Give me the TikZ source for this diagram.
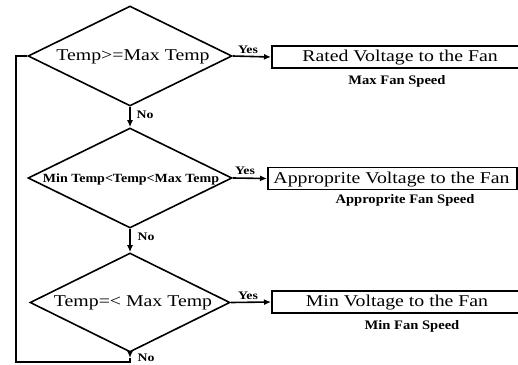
\documentclass[tikz,border=0pt]{standalone}
\usepackage{fontspec}
\setmainfont{Liberation Serif}
\newfontfamily\bigf[FakeStretch=1.2]{Liberation Serif}
\newfontfamily\smf[FakeStretch=1.12]{Liberation Serif}
\usetikzlibrary{shapes.geometric,arrows.meta}
\begin{document}
\begin{tikzpicture}[x=1pt,y=-1pt,
  dia/.style={draw, line width=1.6pt, diamond, inner sep=0pt, minimum width=204pt, minimum height=100pt},
  bx/.style={draw, line width=1.6pt, rectangle, inner sep=0pt, minimum height=22pt},
  bigtxt/.style={font=\bigf\fontsize{16.5}{18}\selectfont, inner sep=0pt},
  smtxt/.style={font=\smf\bfseries\fontsize{13}{14}\selectfont, inner sep=0pt},
  yn/.style={font=\bigf\bfseries\fontsize{11.5}{12}\selectfont, inner sep=0pt},
  con/.style={line width=1.6pt},
  arr/.style={line width=1.6pt, -{Latex[length=7pt,width=6pt]}}]
\clip (0,0) rectangle (518,364);
\fill[white] (0,0) rectangle (518,364);
% diamonds
\node[dia] (d1) at (130,56) {};
\node[bigtxt] (t1) at (133,57) {Temp>=Max Temp};
\node[dia] (d2) at (130,178) {};
\node[smtxt, font=\smf\bfseries\fontsize{12.5}{14}\selectfont] (t2) at (131,179) {Min Temp<Temp<Max Temp};
\node[dia, minimum width=200pt, minimum height=99pt] (d3) at (130,302.5) {};
\node[bigtxt] (t3) at (133,303) {Temp=< Max Temp};
% boxes
\node[bx, minimum width=258pt, anchor=west] (b1) at (271,57) {};
\node[bigtxt] (bt1) at (400,58) {Rated Voltage to the Fan};
\node[bx, minimum width=249pt, anchor=west] (b2) at (267,178.5) {};
\node[bigtxt] (bt2) at (391.5,179.5) {Approprite Voltage to the Fan};
\node[bx, minimum width=252pt, anchor=west] (b3) at (271,302) {};
\node[bigtxt] (bt3) at (397,303) {Min Voltage to the Fan};
% speed labels
\node[smtxt] (s1) at (397,81) {Max Fan Speed};
\node[smtxt] (s2) at (405,200) {Approprite Fan Speed};
\node[smtxt] (s3) at (412,326) {Min Fan Speed};
% yes arrows
\draw[arr] (d1.east) -- (b1.west);
\draw[arr] (d2.east) -- (b2.west);
\draw[arr] (d3.east) -- (b3.west);
\node[yn] (y1) at (248,50) {Yes};
\node[yn] (y2) at (245,171) {Yes};
\node[yn] (y3) at (248,296) {Yes};
% no arrows
\draw[arr] (d1.south) -- (d2.north);
\draw[arr] (d2.south) -- (d3.north);
\node[yn] (n1) at (145,115) {No};
\node[yn] (n2) at (146,237) {No};
\node[yn] (n3) at (146,357.5) {No};
% loop back
\coordinate (c0) at (130,358);
\coordinate (c1) at (130,362);
\coordinate (c2) at (16,362);
\coordinate (c3) at (16,56);
\draw[arr] (d3.south) -- (c0);
\draw[con] (c0) -- (c1) -- (c2) -- (c3) -- (d1.west);
\end{tikzpicture}
\end{document}
